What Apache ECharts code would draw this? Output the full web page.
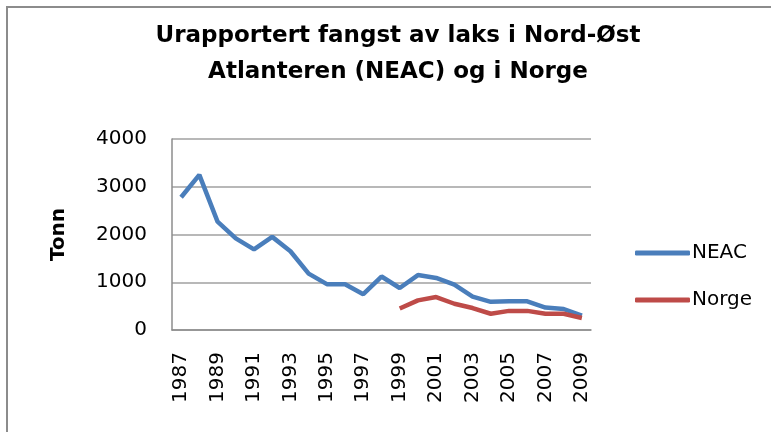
<!DOCTYPE html>
<html>
<head>
<meta charset="utf-8">
<script src="https://cdn.jsdelivr.net/npm/echarts@6/dist/echarts.min.js"></script>
<style>html,body{margin:0;padding:0;background:#fff;}#c{width:771px;height:432px;}</style>
</head>
<body>
<div id="c"></div>
<script>
var years = ['1987','1988','1989','1990','1991','1992','1993','1994','1995','1996','1997','1998','1999','2000','2001','2002','2003','2004','2005','2006','2007','2008','2009'];
var neac = [2780,3250,2270,1920,1690,1950,1650,1180,960,960,750,1120,880,1150,1090,950,700,590,600,600,470,440,300];
var norge = [null,null,null,null,null,null,null,null,null,null,null,null,450,620,690,550,460,340,400,400,340,340,250];
var yTicks = [0,1000,2000,3000,4000];
var titleText = 'Urapportert fangst av laks i Nord-Øst\nAtlanteren (NEAC) og i Norge';

var chart = echarts.init(document.getElementById('c'), null, {renderer:'canvas'});
var font = 'DejaVu Sans';
chart.setOption({
  animation: false,
  backgroundColor: '#fff',
  title: {
    text: titleText,
    left: 393, top: 13, textAlign: 'center',
    textStyle: {fontFamily: font, fontWeight: 'bold', fontSize: 23, lineHeight: 36, color: '#000'}
  },
  graphic: [{
    type: 'rect', shape: {x: 7, y: 7, width: 820, height: 500},
    style: {fill: 'none', stroke: '#8c8c8c', lineWidth: 2}, silent: true
  }],
  legend: {
    orient: 'vertical', left: 630, top: 238, itemGap: 27,
    itemWidth: 55, itemHeight: 5, icon: 'roundRect',
    textStyle: {fontFamily: font, fontSize: 20, color: '#000', padding: [0,0,0,-3]},
    data: ['NEAC','Norge']
  },
  grid: {left: 172, right: 180, top: 139, bottom: 102, containLabel: false},
  xAxis: {
    type: 'category', data: years, boundaryGap: true,
    axisLine: {lineStyle: {color: '#8c8c8c', width: 1.5}},
    axisTick: {show: false},
    axisLabel: {rotate: 90, interval: 1, margin: 22, fontFamily: font, fontSize: 20, color: '#000'}
  },
  yAxis: {
    type: 'value', min: yTicks[0], max: yTicks[yTicks.length-1], interval: 1000,
    name: 'Tonn', nameLocation: 'middle', nameGap: 103, nameRotate: 90,
    nameTextStyle: {fontFamily: font, fontWeight: 'bold', fontSize: 20, color: '#000'},
    axisLine: {show: true, lineStyle: {color: '#8c8c8c', width: 1.5}},
    axisTick: {show: false},
    splitLine: {lineStyle: {color: '#a0a0a0', width: 1.5}},
    axisLabel: {margin: 25, fontFamily: font, fontSize: 20, color: '#000', formatter: function(v){ return String(v); }}
  },
  series: [
    {name: 'NEAC', type: 'line', data: neac, symbol: 'none', lineStyle: {color: '#4a7ebb', width: 4.5}, itemStyle: {color: '#4a7ebb'}},
    {name: 'Norge', type: 'line', data: norge, symbol: 'none', lineStyle: {color: '#be4b48', width: 4.5}, itemStyle: {color: '#be4b48'}}
  ]
});
</script>
</body>
</html>
